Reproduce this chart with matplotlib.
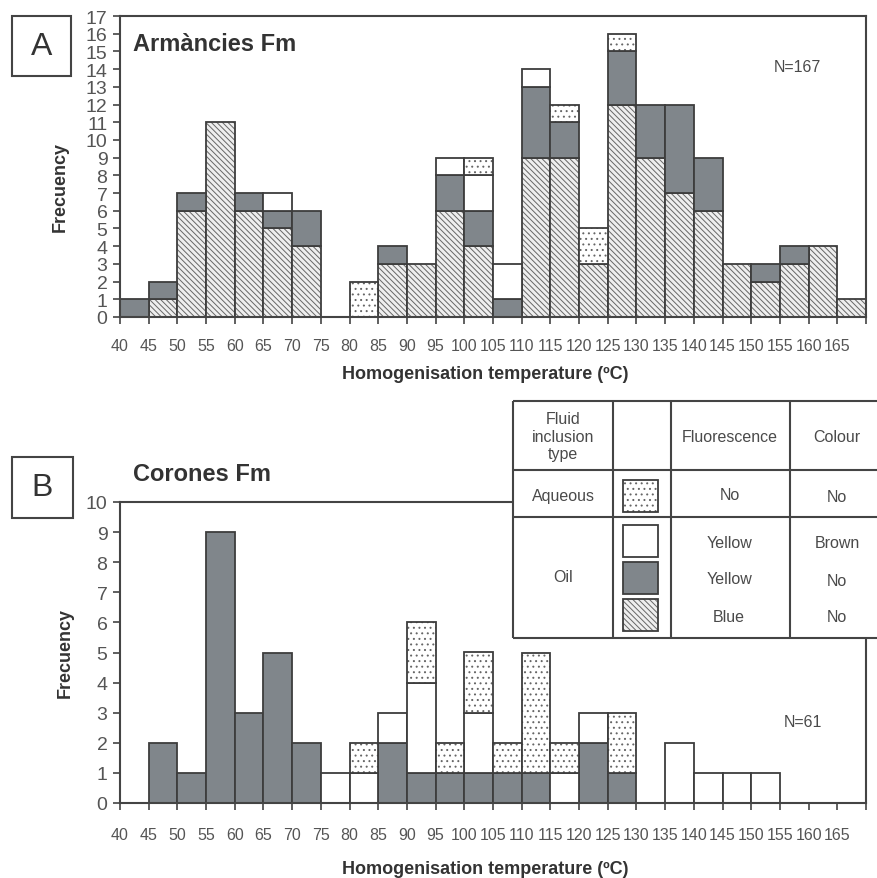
import numpy as np
import matplotlib
matplotlib.use("Agg")
import matplotlib.pyplot as plt
from matplotlib.patches import Rectangle

plt.rcParams['font.family'] = ['Liberation Sans', 'DejaVu Sans']
plt.rcParams['hatch.linewidth'] = 0.7

# bin left edges (ºC), 5 degree classes
bins = list(range(40, 170, 5))
tick_labels = [str(t) for t in range(40, 170, 5)] + ['']

# panel A - Armancies Fm
a_blue = [0, 1, 6, 11, 6, 5, 4, 0, 0, 3, 3, 6, 4, 0, 9, 9, 3, 12, 9, 7, 6, 3, 2, 3, 4, 1]
a_dark = [1, 1, 1, 0, 1, 1, 2, 0, 0, 1, 0, 2, 2, 1, 4, 2, 0, 3, 3, 5, 3, 0, 1, 1, 0, 0]
a_white = [0, 0, 0, 0, 0, 1, 0, 0, 0, 0, 0, 1, 2, 2, 1, 0, 0, 0, 0, 0, 0, 0, 0, 0, 0, 0]
a_dots = [0, 0, 0, 0, 0, 0, 0, 0, 2, 0, 0, 0, 1, 0, 0, 1, 2, 1, 0, 0, 0, 0, 0, 0, 0, 0]

# panel B - Corones Fm
b_blue = [0] * 26
b_dark = [0, 2, 1, 9, 3, 5, 2, 0, 0, 2, 1, 1, 1, 1, 1, 0, 2, 1, 0, 0, 0, 0, 0, 0, 0, 0]
b_white = [0, 0, 0, 0, 0, 0, 0, 1, 1, 1, 3, 0, 2, 0, 0, 1, 1, 0, 0, 2, 1, 1, 1, 0, 0, 0]
b_dots = [0, 0, 0, 0, 0, 0, 0, 0, 1, 0, 2, 1, 2, 1, 4, 1, 0, 2, 0, 0, 0, 0, 0, 0, 0, 0]

EDGE = '#3d3d3d'
TXT = '#4a4a4a'
styles = {
    'blue': dict(facecolor='#eeeeee', hatch='\\\\\\\\\\\\', hatchcol='#666666'),
    'dark': dict(facecolor='#80868b', hatch=None, hatchcol=EDGE),
    'white': dict(facecolor='white', hatch=None, hatchcol=EDGE),
    'dots': dict(facecolor='white', hatch='...', hatchcol='#666666'),
}


def draw_rect(ax, x, y, w, h, kind, **kw):
    st = styles[kind]
    ax.add_patch(Rectangle((x, y), w, h, facecolor=st['facecolor'], hatch=st['hatch'],
                           edgecolor=st['hatchcol'], linewidth=0, **kw))
    ax.add_patch(Rectangle((x, y), w, h, fill=False, edgecolor=EDGE, linewidth=1.3, **kw))


def stacked(ax, series):
    bottom = np.zeros(len(bins))
    for kind, vals in series:
        vals = np.array(vals, dtype=float)
        for x, b, v in zip(bins, bottom, vals):
            if v > 0:
                draw_rect(ax, x, b, 5, v, kind)
        bottom += vals


def style_axes(ax, ymax, label_y, label_x, pad_x):
    ax.set_xlim(40, 170)
    ax.set_ylim(0, ymax)
    ax.set_yticks(range(0, ymax + 1))
    ax.set_xticks(range(40, 171, 5))
    ax.set_xticklabels(tick_labels)
    for s in ax.spines.values():
        s.set_color('#444444')
        s.set_linewidth(1.5)
    ax.tick_params(axis='both', direction='out', length=5, width=1.2, color='#444444',
                   labelcolor='#555555')
    ax.tick_params(axis='y', labelsize=14, pad=4)
    ax.tick_params(axis='x', labelsize=11.5, pad=pad_x)
    ax.set_xlabel('Homogenisation temperature (ºC)', fontsize=13, fontweight='bold', color='#333333')
    ax.set_ylabel('Frecuency', fontsize=13, fontweight='bold', color='#333333')
    ax.yaxis.set_label_coords(label_x, label_y)


fig = plt.figure(figsize=(8.78, 8.79), dpi=100)
W, H = 878.0, 879.0


def fig_axes(x0, y0, x1, y1):
    return fig.add_axes([x0 / W, 1 - y1 / H, (x1 - x0) / W, (y1 - y0) / H])


# panel A
axA = fig_axes(120, 17, 866, 318)
stacked(axA, [('blue', a_blue), ('dark', a_dark), ('white', a_white), ('dots', a_dots)])
style_axes(axA, 17, 0.435, -0.069, 10)
axA.xaxis.set_label_coords(0.49, -0.16)
axA.text(0.018, 0.907, 'Armàncies Fm', transform=axA.transAxes, fontsize=17,
         fontweight='bold', color='#333333', va='center', ha='left')
axA.text((797 - 120) / 746, (318 - 68) / 301, 'N=167', transform=axA.transAxes,
         fontsize=11.5, color=TXT, va='center', ha='center')

# panel B
axB = fig_axes(120, 503, 866, 804)
stacked(axB, [('blue', b_blue), ('dark', b_dark), ('white', b_white), ('dots', b_dots)])
style_axes(axB, 10, 0.5, -0.062, 12)
axB.xaxis.set_label_coords(0.49, -0.19)
axB.text(0.018, (804 - 475) / 301, 'Corones Fm', transform=axB.transAxes, fontsize=17,
         fontweight='bold', color='#333333', va='center', ha='left')
axB.text((803 - 120) / 746, (804 - 723) / 301, 'N=61', transform=axB.transAxes,
         fontsize=11.5, color=TXT, va='center', ha='center')

# panel letters
for letter, (x0, y0, x1, y1) in [('A', (12, 17, 71, 77)), ('B', (12, 458, 73, 519))]:
    fig.patches.append(Rectangle((x0 / W, 1 - y1 / H), (x1 - x0) / W, (y1 - y0) / H,
                                 transform=fig.transFigure, fill=False,
                                 edgecolor='#444444', linewidth=1.5))
    fig.text((x0 + x1) / 2 / W, 1 - (y0 + y1) / 2 / H, letter, fontsize=23,
             color='#333333', ha='center', va='center')

# legend table
axT = fig_axes(513, 402, 880, 639)
axT.set_xlim(513, 880)
axT.set_ylim(639, 402)
axT.set_xticks([])
axT.set_yticks([])
for s in axT.spines.values():
    s.set_visible(False)
lk = dict(color='#444444', linewidth=1.5, clip_on=False, solid_capstyle='butt')
axT.plot([513, 880], [402, 402], **lk)
axT.plot([513, 880], [639, 639], **lk)
axT.plot([513, 880], [471, 471], **lk)
axT.plot([513, 880], [518, 518], **lk)
for xv in [513, 613, 671, 790]:
    axT.plot([xv, xv], [402, 639], **lk)

tk = dict(fontsize=11.5, color=TXT, ha='center', va='center')
axT.text(563, 437, 'Fluid\ninclusion\ntype', linespacing=1.25, **tk)
axT.text(730, 437, 'Fluorescence', **tk)
axT.text(837, 437, 'Colour', **tk)
axT.text(563, 497, 'Aqueous', **tk)
axT.text(730, 496, 'No', **tk)
axT.text(837, 498, 'No', **tk)
axT.text(563, 578, 'Oil', **tk)
rows = [('dots', 481, '', ''), ('white', 526, 'Yellow', 'Brown'),
        ('dark', 563, 'Yellow', 'No'), ('blue', 600, 'Blue', 'No')]
for kind, y0, fl, col in rows:
    draw_rect(axT, 623, y0, 35, 32, kind)
    if fl:
        axT.text(729, y0 + 17, fl, **tk)
        axT.text(837, y0 + 18, col, **tk)

fig.savefig('out.png', dpi=100)
